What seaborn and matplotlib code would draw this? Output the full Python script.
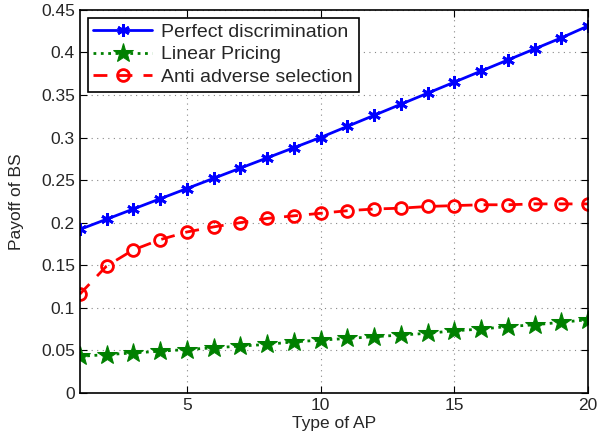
import matplotlib
matplotlib.use('Agg')
import matplotlib.pyplot as plt
import seaborn as sns
import numpy as np
import pandas as pd

sns.set_style('ticks')
plt.rcParams['font.family'] = ['Liberation Sans', 'DejaVu Sans']

# values
ap_type = list(range(1, 21))
perfect = [0.192, 0.204, 0.216, 0.228, 0.240, 0.252, 0.264, 0.276, 0.288, 0.300,
           0.313, 0.326, 0.339, 0.352, 0.365, 0.378, 0.391, 0.404, 0.417, 0.431]
linear = [0.043, 0.045, 0.047, 0.049, 0.051, 0.053, 0.055, 0.057, 0.060, 0.062,
          0.064, 0.066, 0.068, 0.070, 0.073, 0.075, 0.078, 0.080, 0.083, 0.086]
anti = [0.116, 0.149, 0.168, 0.180, 0.189, 0.195, 0.200, 0.205, 0.208, 0.211,
        0.214, 0.216, 0.217, 0.219, 0.220, 0.221, 0.221, 0.222, 0.222, 0.222]

fig = plt.figure(figsize=(6, 4.45), dpi=100)
ax = fig.add_axes([0.133, 0.117, 0.847, 0.861])

sns.lineplot(x=ap_type, y=perfect, ax=ax, color='blue', linewidth=2, linestyle='-',
             marker=(6, 2, 0), markersize=9, markeredgewidth=2, markeredgecolor='blue',
             label='Perfect discrimination')
sns.lineplot(x=ap_type, y=linear, ax=ax, color='green', linewidth=2, linestyle=':',
             marker='*', markersize=15, markeredgecolor='green',
             label='Linear Pricing')
sns.lineplot(x=ap_type, y=anti, ax=ax, color='red', linewidth=2, linestyle=(0, (5, 4)),
             marker='o', markersize=8.5, markerfacecolor='none', markeredgewidth=2,
             markeredgecolor='red', label='Anti adverse selection')

ax.set_xlim(1, 20)
ax.set_ylim(0, 0.45)
ax.set_xticks([5, 10, 15, 20])
ax.set_yticks(np.arange(0, 0.451, 0.05))
ax.set_yticklabels(['0', '0.05', '0.1', '0.15', '0.2', '0.25', '0.3', '0.35', '0.4', '0.45'])
ax.grid(True, linestyle=(0, (1, 4)), color='#888888', linewidth=0.8)
ax.tick_params(direction='in', labelsize=12.5, top=True, right=True, length=5, color='black')
for s in ax.spines.values():
    s.set_visible(True)
    s.set_color('black')
    s.set_linewidth(1.2)
ax.set_xlabel('Type of AP', fontsize=12.5, labelpad=2)
ax.set_ylabel('Payoff of BS', fontsize=12.5, labelpad=12)

leg = ax.legend(loc='upper left', fontsize=14, fancybox=False, framealpha=1,
                edgecolor='black', borderpad=0.3, labelspacing=0.25, handlelength=3,
                handletextpad=0.5, borderaxespad=0.4)
leg.get_frame().set_linewidth(1.2)

fig.savefig('out.png', dpi=100)
